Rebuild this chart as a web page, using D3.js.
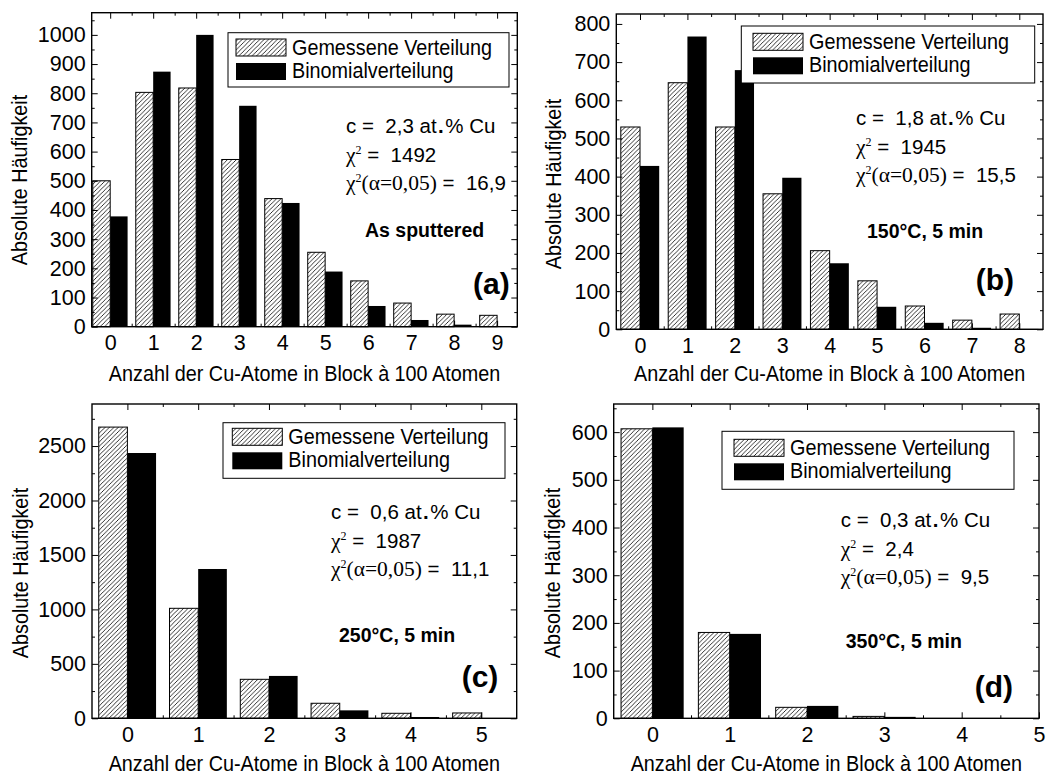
<!DOCTYPE html>
<html>
<head>
<meta charset="utf-8">
<script src="https://cdn.jsdelivr.net/npm/d3@7"></script>
<style>
  html, body { margin: 0; padding: 0; background: #fff; }
  svg { display: block; }
  text { font-family: "Liberation Sans", Arial, sans-serif; fill: #000; }
</style>
</head>
<body>
<svg id="chart" width="1046" height="776"></svg>
<script>
// ---- data: counts of Cu atoms per block of 100 atoms ----
const catsA = [0, 1, 2, 3, 4, 5, 6, 7, 8, 9];
const gemessenA = [500, 803, 818, 573, 439, 255, 157, 81, 43, 39];
const binomialA = [378, 874, 1000, 757, 424, 189, 71, 23, 7, 2];

const catsB = [0, 1, 2, 3, 4, 5, 6, 7, 8];
const gemessenB = [530, 646, 530, 355, 206, 127, 61, 24, 40];
const binomialB = [428, 767, 679, 397, 173, 59, 17, 4, 1];

const catsC = [0, 1, 2, 3, 4, 5];
const gemessenC = [2674, 1010, 358, 138, 46, 49];
const binomialC = [2436, 1371, 389, 73, 12, 3];

const catsD = [0, 1, 2, 3, 4];
const gemessenD = [607, 180, 23, 4, 0];
const binomialD = [610, 177, 26, 3, 0];

// tick labels
const xTicksA = [0, 1, 2, 3, 4, 5, 6, 7, 8, 9];
const xTicksB = [0, 1, 2, 3, 4, 5, 6, 7, 8];
const xTicksC = [0, 1, 2, 3, 4, 5];
const xTicksD = [0, 1, 2, 3, 4, 5];
const yTicksA = [0, 100, 200, 300, 400, 500, 600, 700, 800, 900, 1000];
const yTicksB = [0, 100, 200, 300, 400, 500, 600, 700, 800];
const yTicksC = [0, 500, 1000, 1500, 2000, 2500];
const yTicksD = [0, 100, 200, 300, 400, 500, 600];

// annotation values
const concentrations = ["2,3", "1,8", "0,6", "0,3"];
const chiSquared = ["1492", "1945", "1987", "2,4"];
const chiCritical = ["16,9", "15,5", "11,1", "9,5"];
const conditions = ["As sputtered", "150°C, 5 min", "250°C, 5 min", "350°C, 5 min"];
const panelLetters = ["(a)", "(b)", "(c)", "(d)"];

const seriesNames = ["Gemessene Verteilung", "Binomialverteilung"];
const xTitle = "Anzahl der Cu-Atome in Block à 100 Atomen";
const yTitle = "Absolute Häufigkeit";

// ---- layout of the four panels ----
const panels = [
  { cats: catsA, gem: gemessenA, bin: binomialA, xTicks: xTicksA, yTicks: yTicksA, yMinorStep: 50,
    frame: { l: 91.7, t: 12.7, r: 517.3, b: 326.7 }, xDom: [-0.43, 9.47], yDom: [0, 1076],
    legend: { x: 228, y: 32.7, w: 281, h: 54.3, sx: 236, sy: 6.3 },
    note: { x: 346, y: 133.3 }, cond: { x: 365, y: 237.3 }, letter: { x: 473, y: 294 },
    yTitle: { x: 27, y: 180 }, xTitleY: 381 },
  { cats: catsB, gem: gemessenB, bin: binomialB, xTicks: xTicksB, yTicks: yTicksB, yMinorStep: 50,
    frame: { l: 616.3, t: 14, r: 1043, b: 329.3 }, xDom: [-0.5, 8.5], yDom: [0, 826],
    legend: { x: 741.3, y: 26, w: 293.4, h: 57, sx: 753, sy: 7.3 },
    note: { x: 856, y: 125 }, cond: { x: 867, y: 238 }, letter: { x: 975.7, y: 290 },
    yTitle: { x: 561, y: 184 }, xTitleY: 381 },
  { cats: catsC, gem: gemessenC, bin: binomialC, xTicks: xTicksC, yTicks: yTicksC, yMinorStep: 250,
    frame: { l: 92, t: 404, r: 516.7, b: 718.3 }, xDom: [-0.5, 5.5], yDom: [0, 2886],
    legend: { x: 223, y: 422.7, w: 282, h: 55.6, sx: 232.3, sy: 5.6 },
    note: { x: 331, y: 519 }, cond: { x: 339, y: 642 }, letter: { x: 461.7, y: 686.7 },
    yTitle: { x: 28, y: 573 }, xTitleY: 771 },
  { cats: catsD, gem: gemessenD, bin: binomialD, xTicks: xTicksD, yTicks: yTicksD, yMinorStep: 50,
    frame: { l: 613.7, t: 404, r: 1039, b: 718.3 }, xDom: [-0.5, 5], yDom: [0, 659],
    legend: { x: 722, y: 431.3, w: 292, h: 58, sx: 734, sy: 8 },
    note: { x: 840.7, y: 526.7 }, cond: { x: 845.7, y: 648 }, letter: { x: 974.7, y: 696.7 },
    yTitle: { x: 560, y: 573 }, xTitleY: 771 }
];

const BAR_W = 0.405;       // width of one bar in category units
const serif = "'Liberation Serif', 'Times New Roman', serif";
const NARROW = 0.9;        // horizontal squeeze of the label font

const svg = d3.select("#chart");

// diagonal hatch used for the measured distribution
const defs = svg.append("defs");
const hatch = defs.append("pattern")
  .attr("id", "hatch").attr("patternUnits", "userSpaceOnUse")
  .attr("width", 4.4).attr("height", 4.4);
hatch.append("rect").attr("width", 4.4).attr("height", 4.4).attr("fill", "#fff");
hatch.append("path")
  .attr("d", "M-1.1,1.1 L1.1,-1.1 M0,4.4 L4.4,0 M3.3,5.5 L5.5,3.3")
  .attr("stroke", "#000").attr("stroke-width", 0.8);

function styleAxis(sel) {
  sel.select(".domain").remove();
  sel.selectAll("line").attr("stroke", "#000").attr("stroke-width", 1);
}

// text drawn with a slightly condensed sans face
function narrowText(parent, x, y, size, rotate) {
  const rot = rotate ? ` rotate(${rotate})` : "";
  return parent.append("text")
    .attr("transform", `translate(${x},${y})${rot} scale(${NARROW},1)`)
    .style("font-size", size + "px");
}

function drawPanel(p, idx) {
  const g = svg.append("g");
  const f = p.frame;
  const x = d3.scaleLinear().domain(p.xDom).range([f.l, f.r]);
  const y = d3.scaleLinear().domain(p.yDom).range([f.b, f.t]);

  // minor tick positions
  const xMinor = d3.range(Math.ceil(p.xDom[0] - 0.5) + 0.5, p.xDom[1], 1)
    .filter(v => v > p.xDom[0] + 0.01 && v < p.xDom[1] - 0.01);
  const yMinor = d3.range(p.yMinorStep, p.yDom[1], p.yMinorStep)
    .filter(v => !p.yTicks.includes(v));

  // bars
  const rows = p.cats.map((c, i) => ({ c, gem: p.gem[i], bin: p.bin[i] }));
  g.selectAll("rect.gem").data(rows).join("rect")
    .attr("class", "gem")
    .attr("x", d => x(d.c - BAR_W))
    .attr("width", d => x(d.c) - x(d.c - BAR_W))
    .attr("y", d => y(d.gem))
    .attr("height", d => y(0) - y(d.gem))
    .attr("fill", "url(#hatch)")
    .attr("stroke", "#000").attr("stroke-width", 1);
  g.selectAll("rect.bin").data(rows).join("rect")
    .attr("class", "bin")
    .attr("x", d => x(d.c))
    .attr("width", d => x(d.c + BAR_W) - x(d.c))
    .attr("y", d => y(d.bin))
    .attr("height", d => y(0) - y(d.bin))
    .attr("fill", "#000");

  // axes, ticks pointing inward on all four sides
  const bottom = g.append("g").attr("transform", `translate(0,${f.b})`)
    .call(d3.axisBottom(x).tickValues(p.xTicks).tickSize(-6).tickPadding(8).tickFormat(d3.format("d")));
  g.append("g").attr("transform", `translate(0,${f.b})`)
    .call(d3.axisBottom(x).tickValues(xMinor).tickSize(-3).tickFormat("")).call(styleAxis);
  g.append("g").attr("transform", `translate(0,${f.t})`)
    .call(d3.axisTop(x).tickValues(p.xTicks.filter(v => v < p.xDom[1] - 0.01)).tickSize(-6).tickFormat("")).call(styleAxis);
  g.append("g").attr("transform", `translate(0,${f.t})`)
    .call(d3.axisTop(x).tickValues(xMinor).tickSize(-3).tickFormat("")).call(styleAxis);

  const left = g.append("g").attr("transform", `translate(${f.l},0)`)
    .call(d3.axisLeft(y).tickValues(p.yTicks).tickSize(-6).tickPadding(6).tickFormat(d3.format("d")));
  g.append("g").attr("transform", `translate(${f.l},0)`)
    .call(d3.axisLeft(y).tickValues(yMinor).tickSize(-3).tickFormat("")).call(styleAxis);
  g.append("g").attr("transform", `translate(${f.r},0)`)
    .call(d3.axisRight(y).tickValues(p.yTicks).tickSize(-6).tickFormat("")).call(styleAxis);
  g.append("g").attr("transform", `translate(${f.r},0)`)
    .call(d3.axisRight(y).tickValues(yMinor).tickSize(-3).tickFormat("")).call(styleAxis);

  [bottom, left].forEach(a => {
    styleAxis(a);
    a.selectAll("text")
      .style("font-family", "'Liberation Sans', Arial, sans-serif")
      .style("font-size", "21.5px").attr("fill", "#000");
  });

  // frame
  g.append("rect")
    .attr("x", f.l).attr("y", f.t).attr("width", f.r - f.l).attr("height", f.b - f.t)
    .attr("fill", "none").attr("stroke", "#000").attr("stroke-width", 1.4);

  // axis titles
  narrowText(g, (f.l + f.r) / 2, p.xTitleY, 22)
    .attr("text-anchor", "middle").text(xTitle);
  narrowText(g, p.yTitle.x, p.yTitle.y, 22, -90)
    .attr("text-anchor", "middle").text(yTitle);

  // legend
  const L = p.legend;
  const lg = g.append("g");
  lg.append("rect").attr("x", L.x).attr("y", L.y).attr("width", L.w).attr("height", L.h)
    .attr("fill", "#fff").attr("stroke", "#000").attr("stroke-width", 1);
  lg.append("rect").attr("x", L.sx).attr("y", L.y + L.sy).attr("width", 50).attr("height", 17)
    .attr("fill", "url(#hatch)").attr("stroke", "#000").attr("stroke-width", 1);
  lg.append("rect").attr("x", L.sx).attr("y", L.y + L.sy + 24).attr("width", 50).attr("height", 17)
    .attr("fill", "#000");
  seriesNames.forEach((name, i) => {
    narrowText(lg, L.sx + 56, L.y + L.sy + 15.5 + i * 23.5, 22).text(name);
  });

  // statistics annotation
  const n = p.note;
  const l1 = g.append("text").attr("x", n.x).attr("y", n.y).style("font-size", "20.5px");
  l1.append("tspan").text(`c =\u00A0\u00A0${concentrations[idx]} at`);
  l1.append("tspan").attr("dx", 1.5).style("font-weight", "bold").text(".");
  l1.append("tspan").attr("dx", 1.5).text("% Cu");

  const l2 = g.append("text").attr("x", n.x).attr("y", n.y + 29).style("font-size", "20.5px");
  l2.append("tspan").style("font-family", serif).style("font-size", "21.5px").text("χ");
  l2.append("tspan").style("font-family", serif).style("font-size", "12px").attr("dy", -8).text("2");
  l2.append("tspan").attr("dy", 8).text("\u00A0=\u00A0\u00A0" + chiSquared[idx]);

  const l3 = g.append("text").attr("x", n.x).attr("y", n.y + 57).style("font-size", "20.5px");
  l3.append("tspan").style("font-family", serif).style("font-size", "21.5px").text("χ");
  l3.append("tspan").style("font-family", serif).style("font-size", "12px").attr("dy", -8).text("2");
  l3.append("tspan").style("font-family", serif).style("font-size", "21.5px").attr("dy", 8).text("(α=0,05)");
  l3.append("tspan").text("\u00A0=\u00A0\u00A0" + chiCritical[idx]);

  g.append("text").attr("x", p.cond.x).attr("y", p.cond.y)
    .style("font-size", "19.5px").style("font-weight", "bold")
    .text(conditions[idx]);
  g.append("text").attr("x", p.letter.x).attr("y", p.letter.y)
    .style("font-size", "30px").style("font-weight", "bold")
    .text(panelLetters[idx]);
}

panels.forEach(drawPanel);
</script>
</body>
</html>
